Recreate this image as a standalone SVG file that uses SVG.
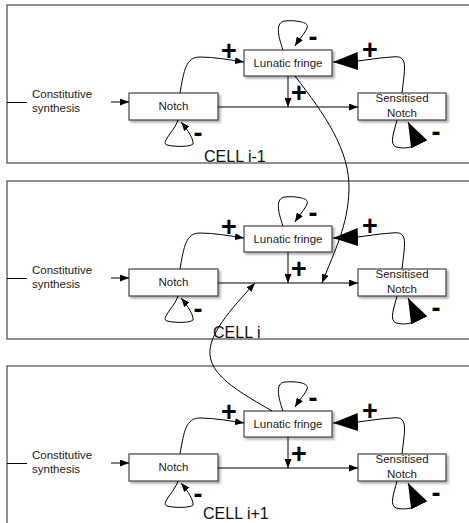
<svg xmlns="http://www.w3.org/2000/svg" width="469" height="523" viewBox="0 0 469 523">
<style>
.frame{fill:none;stroke:#555;stroke-width:1.3}
.box{fill:#fff;stroke:#444;stroke-width:1.2;filter:url(#sh)}
.t{font-family:"Liberation Sans",Arial,sans-serif;font-size:11.5px;fill:#222}
.tm{text-anchor:middle}
.cell{font-family:"Liberation Sans",Arial,sans-serif;font-size:16px;fill:#111}
.sign{font-family:"Liberation Sans",Arial,sans-serif;font-size:27px;font-weight:bold;fill:#000;text-anchor:middle}
.c{fill:none;stroke:#000;stroke-width:1}
.a{marker-end:url(#arr)}
.b{marker-end:url(#big)}
</style>
<defs>
<filter id="sh" x="-10%" y="-20%" width="130%" height="150%">
<feDropShadow dx="2" dy="2" stdDeviation="1" flood-color="#888" flood-opacity="0.7"/>
</filter>
<marker id="arr" markerUnits="userSpaceOnUse" markerWidth="10" markerHeight="7" refX="9" refY="3.5" orient="auto">
<path d="M0,0 L9,3.5 L0,7 z" fill="#000"/>
</marker>
<marker id="big" markerUnits="userSpaceOnUse" markerWidth="26" markerHeight="18" refX="25" refY="9" orient="auto">
<path d="M0,0 L25,9 L0,18 z" fill="#000"/>
</marker>
</defs>

<!-- CELL i-1 -->
<g id="cell-im1">
<rect class="frame" x="7" y="5" width="480" height="158"/>
<text class="cell" x="204" y="162">CELL i-1</text>
</g>
<g id="const-im1"><text class="t" x="32" y="98">Constitutive</text><text class="t" x="32" y="112">synthesis</text></g>
<g id="notch-im1"><rect class="box" x="129" y="93" width="89" height="27"/><text class="t tm" x="173.5" y="110">Notch</text></g>
<g id="lf-im1"><rect class="box" x="244" y="50" width="88" height="26"/><text class="t tm" x="288" y="67">Lunatic fringe</text></g>
<g id="sn-im1"><rect class="box" x="358" y="93" width="88" height="27"/><text class="t tm" x="402" y="102">Sensitised</text><text class="t tm" x="402" y="117">Notch</text></g>

<!-- CELL i -->
<g id="cell-i">
<rect class="frame" x="7" y="181" width="480" height="158"/>
<text class="cell" x="213" y="338">CELL i</text>
</g>
<g id="const-i"><text class="t" x="32" y="274">Constitutive</text><text class="t" x="32" y="288">synthesis</text></g>
<g id="notch-i"><rect class="box" x="129" y="269" width="89" height="27"/><text class="t tm" x="173.5" y="286">Notch</text></g>
<g id="lf-i"><rect class="box" x="244" y="226" width="88" height="26"/><text class="t tm" x="288" y="243">Lunatic fringe</text></g>
<g id="sn-i"><rect class="box" x="358" y="269" width="88" height="27"/><text class="t tm" x="402" y="278">Sensitised</text><text class="t tm" x="402" y="293">Notch</text></g>

<!-- CELL i+1 -->
<g id="cell-ip1">
<rect class="frame" x="7" y="366" width="480" height="158"/>
<text class="cell" x="203" y="519">CELL i+1</text>
</g>
<g id="const-ip1"><text class="t" x="32" y="459">Constitutive</text><text class="t" x="32" y="473">synthesis</text></g>
<g id="notch-ip1"><rect class="box" x="129" y="454" width="89" height="27"/><text class="t tm" x="173.5" y="471">Notch</text></g>
<g id="lf-ip1"><rect class="box" x="244" y="411" width="88" height="26"/><text class="t tm" x="288" y="428">Lunatic fringe</text></g>
<g id="sn-ip1"><rect class="box" x="358" y="454" width="88" height="27"/><text class="t tm" x="402" y="463">Sensitised</text><text class="t tm" x="402" y="478">Notch</text></g>

<g id="connectors">
<g id="conn-im1">
<path class="c" d="M7,102.5 L27,102.5"/>
<path class="c a" d="M111,102 L129,102"/>
<path class="c a" d="M218,107 L358,107"/>
<path class="c a" d="M288,76 L288,107"/>
<path class="c a" d="M180,93 C184,70 186,57 200,57 C215,57 230,60 244,62"/>
<path class="c a" d="M283,50 C278,36 275,22 285,21 C296,20 310,22 307,28 C305,33 300,38 295,46"/>
<path class="c a" d="M178,120 C175,130 160,143 167,145 C175,147 190,147 193,144 C194,140 188,130 181,122"/>
<path class="c b" d="M402,93 C404,75 406,65 403,60 C400,55 395,57 380,58 L358,61 L333,62"/>
<path class="c b" d="M397,120 C394,132 389,144 396,147 C403,149 416,148 418,142 L408,122"/>
</g>
<g id="conn-i">
<path class="c" d="M7,278.5 L27,278.5"/>
<path class="c a" d="M111,278 L129,278"/>
<path class="c a" d="M218,283 L358,283"/>
<path class="c a" d="M288,252 L288,283"/>
<path class="c a" d="M180,269 C184,246 186,233 200,233 C215,233 230,236 244,238"/>
<path class="c a" d="M283,226 C278,212 275,198 285,197 C296,196 310,198 307,204 C305,209 300,214 295,222"/>
<path class="c a" d="M178,296 C175,306 160,319 167,321 C175,323 190,323 193,320 C194,316 188,306 181,298"/>
<path class="c b" d="M402,269 C404,251 406,241 403,236 C400,231 395,233 380,234 L358,237 L333,238"/>
<path class="c b" d="M397,296 C394,308 389,320 396,323 C403,325 416,324 418,318 L408,298"/>
</g>
<g id="conn-ip1">
<path class="c" d="M7,463.5 L27,463.5"/>
<path class="c a" d="M111,463 L129,463"/>
<path class="c a" d="M218,468 L358,468"/>
<path class="c a" d="M288,437 L288,468"/>
<path class="c a" d="M180,454 C184,431 186,418 200,418 C215,418 230,421 244,423"/>
<path class="c a" d="M283,411 C278,397 275,383 285,382 C296,381 310,383 307,389 C305,394 300,399 295,407"/>
<path class="c a" d="M178,481 C175,491 160,504 167,506 C175,508 190,508 193,505 C194,501 188,491 181,483"/>
<path class="c b" d="M402,454 C404,436 406,426 403,421 C400,416 395,418 380,419 L358,422 L333,423"/>
<path class="c b" d="M397,481 C394,493 389,505 396,508 C403,510 416,509 418,503 L408,483"/>
</g>
<path id="inter-1" class="c a" d="M295,76 C325,115 350,150 349,190 C348,225 335,250 322,283"/>
<path id="inter-2" class="c a" d="M272,411 C245,395 212,378 210,355 C208,335 230,310 255,283"/>
</g>

<g id="signs">
<text class="sign" x="229" y="60">+</text>
<text class="sign" x="299" y="102">+</text>
<text class="sign" x="370" y="59">+</text>
<text class="sign" x="313" y="46">-</text>
<text class="sign" x="198" y="142">-</text>
<text class="sign" x="436" y="141">-</text>

<text class="sign" x="229" y="236">+</text>
<text class="sign" x="299" y="278">+</text>
<text class="sign" x="370" y="235">+</text>
<text class="sign" x="313" y="222">-</text>
<text class="sign" x="198" y="318">-</text>
<text class="sign" x="436" y="317">-</text>

<text class="sign" x="229" y="421">+</text>
<text class="sign" x="299" y="463">+</text>
<text class="sign" x="370" y="420">+</text>
<text class="sign" x="313" y="407">-</text>
<text class="sign" x="198" y="503">-</text>
<text class="sign" x="436" y="502">-</text>
</g>
</svg>
